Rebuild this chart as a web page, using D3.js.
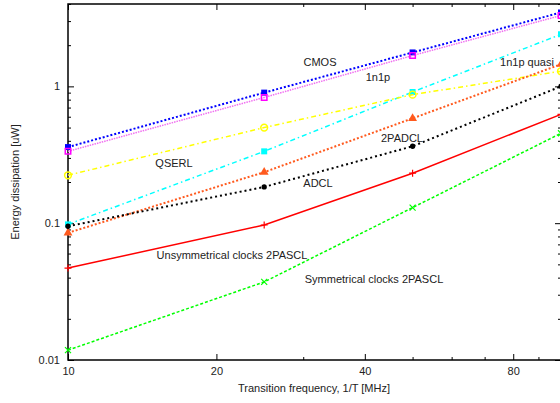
<!DOCTYPE html>
<html><head><meta charset="utf-8">
<script src="https://cdn.jsdelivr.net/npm/d3@7"></script>
<style>
html,body{margin:0;padding:0;background:#fff;}
svg{display:block;font-family:"Liberation Sans",Arial,sans-serif;}
</style></head>
<body><svg id="c" width="560" height="403"></svg>
<script>
const freqs = [10, 25, 50, 100];
const cmos   = [0.36, 0.90, 1.77, 3.47];
const n1p    = [0.335, 0.83, 1.68, 3.30];
const quasi  = [0.098, 0.335, 0.91, 2.40];
const qserl  = [0.224, 0.50, 0.87, 1.29];
const padcl2 = [0.085, 0.236, 0.584, 1.45];
const adcl   = [0.095, 0.184, 0.365, 1.00];
const unsym  = [0.047, 0.097, 0.232, 0.625];
const sym    = [0.0118, 0.0372, 0.130, 0.454];

const xMajor = [10, 20, 40, 80];
const xMinor = [30, 50, 60, 70, 90];
const yMajor = [0.01, 0.1, 1];
const yMinor = [0.02,0.03,0.04,0.05,0.06,0.07,0.08,0.09,0.2,0.3,0.4,0.5,0.6,0.7,0.8,0.9,2,3,4];
const yMajorLabels = ["0.01", "0.1", "1"];

const labels = [
  {t:"CMOS", x:320, y:62},
  {t:"1n1p", x:378, y:77},
  {t:"1n1p quasi", x:527, y:62},
  {t:"QSERL", x:174, y:163},
  {t:"2PADCL", x:402, y:138},
  {t:"ADCL", x:318, y:183},
  {t:"Unsymmetrical clocks 2PASCL", x:232, y:255},
  {t:"Symmetrical clocks 2PASCL", x:374, y:279}
];

const series = [
  {v:cmos,   color:"#0000ff", mcolor:"#0000ff", dash:"2,2", w:2, m:"sqf"},
  {v:n1p,    color:"#f070f0", mcolor:"#ff00ff", dash:"1.5,1", w:1.5, m:"sqo"},
  {v:quasi,  color:"#00ffff", mcolor:"#00ffff", dash:"5,3,1.5,3", w:1.5, m:"sqf"},
  {v:qserl,  color:"#ffff00", mcolor:"#ffff00", dash:"5,3,1.5,3", w:1.5, m:"cio"},
  {v:padcl2, color:"#ff5a1e", mcolor:"#ff5a1e", dash:"2,2", w:2, m:"tri"},
  {v:adcl,   color:"#000000", mcolor:"#000000", dash:"2,3", w:2, m:"cif"},
  {v:unsym,  color:"#ff0000", mcolor:"#ff0000", dash:null, w:1.5, m:"plus"},
  {v:sym,    color:"#00ff00", mcolor:"#00ff00", dash:"3,2", w:1.5, m:"x"}
];

const svg = d3.select("#c");
const L = 68, R = 561, T = 4, B = 360;
const x = d3.scaleLog().domain([10, 100]).range([L, R]);
const y = d3.scaleLog().domain([0.01, 4]).range([B, T]);

function axisStyle(g){
  g.select(".domain").remove();
  g.selectAll("line").attr("stroke","#000").attr("stroke-width",1);
  g.selectAll("text").attr("font-size",11).attr("fill","#222").attr("font-family","Liberation Sans, Arial, sans-serif");
}
// bottom
svg.append("g").attr("transform",`translate(0,${B})`)
  .call(d3.axisBottom(x).tickValues(xMajor).tickSize(-6).tickPadding(7).tickFormat(d3.format("d"))).call(axisStyle);
svg.append("g").attr("transform",`translate(0,${B})`)
  .call(d3.axisBottom(x).tickValues(xMinor).tickSize(-3).tickFormat("")).call(axisStyle);
// top
svg.append("g").attr("transform",`translate(0,${T})`)
  .call(d3.axisTop(x).tickValues(xMajor).tickSize(-6).tickFormat("")).call(axisStyle);
svg.append("g").attr("transform",`translate(0,${T})`)
  .call(d3.axisTop(x).tickValues(xMinor).tickSize(-3).tickFormat("")).call(axisStyle);
// left
svg.append("g").attr("transform",`translate(${L},0)`)
  .call(d3.axisLeft(y).tickValues(yMajor).tickSize(-6).tickPadding(8).tickFormat((d,i)=>yMajorLabels[i])).call(axisStyle);
svg.append("g").attr("transform",`translate(${L},0)`)
  .call(d3.axisLeft(y).tickValues(yMinor).tickSize(-3).tickFormat("")).call(axisStyle);
// right
svg.append("g").attr("transform",`translate(${R},0)`)
  .call(d3.axisRight(y).tickValues(yMajor).tickSize(-6).tickFormat("")).call(axisStyle);
svg.append("g").attr("transform",`translate(${R},0)`)
  .call(d3.axisRight(y).tickValues(yMinor).tickSize(-3).tickFormat("")).call(axisStyle);

// border
svg.append("rect").attr("x",L).attr("y",T).attr("width",R-L).attr("height",B-T)
  .attr("fill","none").attr("stroke","#000").attr("stroke-width",1.5);

const line = d3.line().x((d,i)=>x(freqs[i])).y(d=>y(d));

series.forEach(s=>{
  const p = svg.append("path").datum(s.v).attr("d", line)
    .attr("fill","none").attr("stroke", s.color).attr("stroke-width", s.w);
  if (s.dash) p.attr("stroke-dasharray", s.dash);
  const g = svg.append("g");
  s.v.forEach((v,i)=>{
    const cx = x(freqs[i]), cy = y(v);
    const t = `translate(${cx},${cy})`;
    if (s.m==="sqf") g.append("path").attr("d", d3.symbol(d3.symbolSquare, 36)()).attr("transform",t).attr("fill",s.mcolor);
    else if (s.m==="sqo") g.append("path").attr("d", d3.symbol(d3.symbolSquare, 30)()).attr("transform",t).attr("fill","none").attr("stroke",s.mcolor).attr("stroke-width",1.5);
    else if (s.m==="cio") g.append("path").attr("d", d3.symbol(d3.symbolCircle, 36)()).attr("transform",t).attr("fill","none").attr("stroke",s.mcolor).attr("stroke-width",1.5);
    else if (s.m==="cif") g.append("path").attr("d", d3.symbol(d3.symbolCircle, 22)()).attr("transform",t).attr("fill",s.mcolor);
    else if (s.m==="tri") g.append("path").attr("d", d3.symbol(d3.symbolTriangle, 34)()).attr("transform",t).attr("fill",s.mcolor);
    else if (s.m==="plus") g.append("path").attr("d","M-3.5,0H3.5M0,-3.5V3.5").attr("transform",t).attr("stroke",s.mcolor).attr("stroke-width",1.2);
    else if (s.m==="x") g.append("path").attr("d","M-3,-3L3,3M-3,3L3,-3").attr("transform",t).attr("stroke",s.mcolor).attr("stroke-width",1.2);
  });
});

labels.forEach(l=>{
  svg.append("text").attr("x",l.x).attr("y",l.y).attr("dy","0.35em")
    .attr("text-anchor","middle").attr("font-size",11).attr("fill","#222").text(l.t);
});

svg.append("text").attr("x",314).attr("y",388).attr("dy","0.35em").attr("text-anchor","middle")
  .attr("font-size",11).attr("fill","#222").text("Transition frequency, 1/T [MHz]");
svg.append("text").attr("transform","translate(15,182) rotate(-90)").attr("dy","0.35em").attr("text-anchor","middle")
  .attr("font-size",11).attr("fill","#222").text("Energy dissipation [uW]");
</script></body></html>
